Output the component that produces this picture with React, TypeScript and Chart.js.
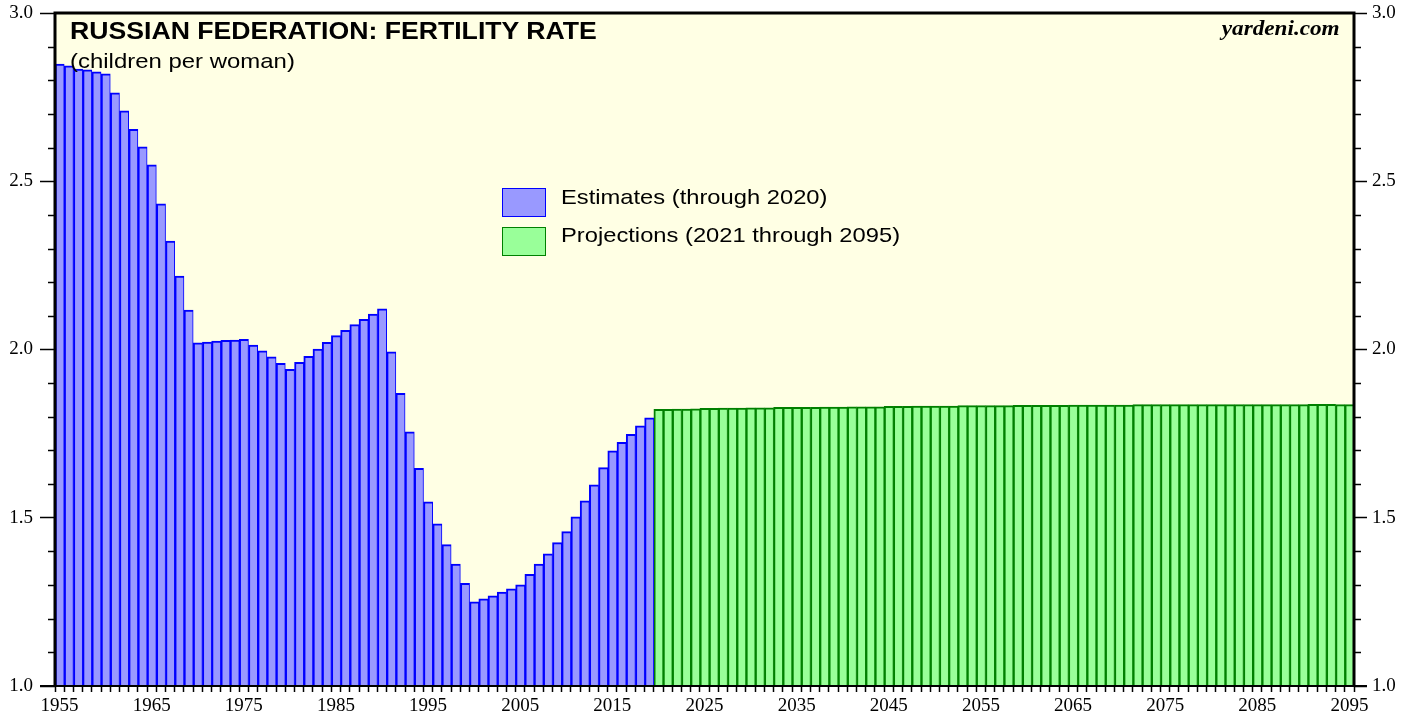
import React, { useEffect, useRef } from "react";
import { Chart, registerables } from "chart.js";

Chart.register(...registerables);

// Categories: one bar per year
const years: number[] = Array.from({ length: 141 }, (_, i) => 1955 + i);

// Estimates, 1955..2019 (children per woman)
const estimates: number[] = [
  2.848, 2.843, 2.833, 2.831, 2.825, 2.819, 2.763, 2.709, 2.654, 2.602,
  2.549, 2.433, 2.322, 2.218, 2.117, 2.020, 2.022, 2.025, 2.027, 2.028,
  2.030, 2.013, 1.996, 1.978, 1.959, 1.941, 1.962, 1.980, 2.001, 2.021,
  2.041, 2.057, 2.074, 2.090, 2.105, 2.121, 1.993, 1.870, 1.755, 1.647,
  1.547, 1.482, 1.420, 1.362, 1.305, 1.250, 1.259, 1.268, 1.279, 1.289,
  1.301, 1.332, 1.362, 1.393, 1.426, 1.459, 1.503, 1.550, 1.598, 1.649,
  1.699, 1.724, 1.748, 1.773, 1.797,
];

// Projections, 2020..2095
const projections: number[] = [
  1.822, 1.822, 1.823, 1.823, 1.824, 1.825, 1.825, 1.826, 1.826, 1.826,
  1.827, 1.827, 1.827, 1.828, 1.828, 1.828, 1.828, 1.828, 1.829, 1.829,
  1.829, 1.830, 1.830, 1.830, 1.830, 1.831, 1.831, 1.831, 1.832, 1.832,
  1.832, 1.832, 1.832, 1.833, 1.833, 1.833, 1.833, 1.833, 1.833, 1.834,
  1.834, 1.834, 1.834, 1.834, 1.834, 1.835, 1.835, 1.835, 1.835, 1.835,
  1.835, 1.835, 1.836, 1.836, 1.836, 1.836, 1.836, 1.836, 1.836, 1.836,
  1.836, 1.836, 1.836, 1.836, 1.836, 1.836, 1.836, 1.836, 1.836, 1.836,
  1.836, 1.837, 1.837, 1.837, 1.836, 1.836,
];

const seriesLabels = ["Estimates (through 2020)", "Projections (2021 through 2095)"];
const titleText = "RUSSIAN FEDERATION: FERTILITY RATE";
const subtitleText = "(children per woman)";
const sourceText = "yardeni.com";
const yMin = 1.0;
const yMax = 3.0;
const yMinorStep = 0.1;
const yMajorStep = 0.5;
const xLabelEvery = 10;

const BLUE_FILL = "#9999ff";
const BLUE_LINE = "#0000ff";
const GREEN_FILL = "#99ff99";
const GREEN_LINE = "#008000";
const PLOT_BG = "#ffffe4";

export default function App() {
  const ref = useRef<HTMLCanvasElement>(null);

  useEffect(() => {
    if (!ref.current) return;
    const nEst = estimates.length;
    const estData = years.map((_, i) => (i < nEst ? estimates[i] : null));
    const projData = years.map((_, i) => (i >= nEst ? projections[i - nEst] : null));
    const isMajor = (v: number) =>
      Math.abs(v / yMajorStep - Math.round(v / yMajorStep)) < 1e-6;

    const framePlugin = {
      id: "frame",
      beforeDraw(chart: any) {
        const { ctx, chartArea: a } = chart;
        ctx.save();
        ctx.fillStyle = PLOT_BG;
        ctx.fillRect(a.left, a.top, a.right - a.left, a.bottom - a.top);
        ctx.restore();
      },
      afterDraw(chart: any) {
        const { ctx, chartArea: a } = chart;
        ctx.save();
        ctx.strokeStyle = "#000";
        // minor ticks
        ctx.lineWidth = 1.5;
        ["y", "y2"].forEach((id) => {
          const s = chart.scales[id];
          s.ticks.forEach((t: any) => {
            if (isMajor(t.value)) return;
            const py = Math.round(s.getPixelForValue(t.value)) + 0.5;
            ctx.beginPath();
            if (id === "y") {
              ctx.moveTo(a.left - 7, py);
              ctx.lineTo(a.left, py);
            } else {
              ctx.moveTo(a.right, py);
              ctx.lineTo(a.right + 7, py);
            }
            ctx.stroke();
          });
        });
        // frame
        ctx.lineWidth = 3;
        ctx.beginPath();
        ctx.moveTo(a.left, a.bottom);
        ctx.lineTo(a.left, a.top);
        ctx.lineTo(a.right, a.top);
        ctx.lineTo(a.right, a.bottom);
        ctx.stroke();
        ctx.lineWidth = 2;
        ctx.beginPath();
        ctx.moveTo(a.left - 15, a.bottom);
        ctx.lineTo(a.right + 13, a.bottom);
        ctx.stroke();
        ctx.restore();
      },
    };

    const tickFont = { family: "'Liberation Serif', 'Times New Roman', serif", size: 19 };

    const yAxis = (position: "left" | "right", width: number, tl: number, pad: number) => ({
      type: "linear" as const,
      position,
      min: yMin,
      max: yMax,
      afterFit: (s: any) => {
        s.width = width;
        s.paddingTop = 0;
        s.paddingBottom = 0;
      },
      border: { display: false },
      grid: {
        drawOnChartArea: false,
        drawTicks: true,
        tickLength: tl,
        tickWidth: 1.5,
        tickColor: (c: any) => (c.tick && isMajor(c.tick.value) ? "#000" : "rgba(0,0,0,0)"),
      },
      ticks: {
        stepSize: yMinorStep,
        autoSkip: false,
        padding: pad,
        color: "#000",
        font: tickFont,
        callback: (v: any) => (isMajor(Number(v)) ? Number(v).toFixed(1) : ""),
      },
    });

    const chart = new Chart(ref.current, {
      type: "bar",
      data: {
        labels: years.map(String),
        datasets: [
          {
            label: seriesLabels[0],
            data: estData,
            backgroundColor: BLUE_FILL,
            borderColor: BLUE_LINE,
            borderWidth: { top: 2, left: 2, right: 1, bottom: 0 },
            borderSkipped: false,
            barPercentage: 1,
            categoryPercentage: 1,
            grouped: false,
          } as any,
          {
            label: seriesLabels[1],
            data: projData,
            backgroundColor: GREEN_FILL,
            borderColor: GREEN_LINE,
            borderWidth: { top: 2, left: 2, right: 1, bottom: 0 },
            borderSkipped: false,
            barPercentage: 1,
            categoryPercentage: 1,
            grouped: false,
          } as any,
        ],
      },
      options: {
        responsive: false,
        animation: false,
        events: [],
        layout: { padding: { top: 13, left: 0, right: 0, bottom: 0 } },
        plugins: { legend: { display: false }, tooltip: { enabled: false }, title: { display: false } },
        scales: {
          x: {
            type: "category",
            offset: true,
            afterFit: (s: any) => {
              s.height = 33;
              s.paddingLeft = 0;
              s.paddingRight = 0;
            },
            border: { display: false },
            grid: {
              offset: true,
              drawOnChartArea: false,
              drawTicks: true,
              tickLength: 6,
              tickWidth: 1.5,
              tickColor: "#000",
            },
            ticks: {
              autoSkip: false,
              maxRotation: 0,
              minRotation: 0,
              padding: 3,
              color: "#000",
              font: tickFont,
              callback: (_v: any, i: number) =>
                (years[i] - years[0]) % xLabelEvery === 0 ? String(years[i]) : "",
            },
          },
          y: yAxis("left", 55, 15, 7) as any,
          y2: yAxis("right", 65, 13, 5) as any,
        },
      },
      plugins: [framePlugin],
    });
    return () => chart.destroy();
  }, []);

  const sans = "'Liberation Sans', Arial, sans-serif";
  const textStyle = (extra: React.CSSProperties): React.CSSProperties => ({
    position: "absolute",
    whiteSpace: "nowrap",
    lineHeight: 1,
    color: "#000",
    ...extra,
  });

  return (
    <div style={{ position: "fixed", left: 0, top: 0, width: 1419, height: 719, background: "#fff" }}>
      <canvas ref={ref} width={1419} height={719} style={{ display: "block" }} />
      <div
        style={textStyle({
          left: 70,
          top: 19.5,
          fontFamily: sans,
          fontWeight: "bold",
          fontSize: 23,
          transform: "scaleX(1.158)",
          transformOrigin: "left top",
        })}
      >
        {titleText}
      </div>
      <div
        style={textStyle({
          left: 70,
          top: 50.2,
          fontFamily: sans,
          fontSize: 21,
          transform: "scaleX(1.14)",
          transformOrigin: "left top",
        })}
      >
        {subtitleText}
      </div>
      <div
        style={textStyle({
          right: 1419 - 1340,
          top: 18.3,
          fontFamily: "'Liberation Serif', 'Times New Roman', serif",
          fontWeight: "bold",
          fontStyle: "italic",
          fontSize: 20,
          transform: "scaleX(1.16)",
          transformOrigin: "right top",
        })}
      >
        {sourceText}
      </div>
      {[0, 1].map((k) => (
        <React.Fragment key={k}>
          <div
            style={{
              position: "absolute",
              left: 502,
              top: 188 + k * 38.5,
              width: 44,
              height: 29,
              boxSizing: "border-box",
              background: k === 0 ? BLUE_FILL : GREEN_FILL,
              border: `1.5px solid ${k === 0 ? BLUE_LINE : GREEN_LINE}`,
            }}
          />
          <div
            style={textStyle({
              left: 561,
              top: 185.7 + k * 38.5,
              fontFamily: sans,
              fontSize: 21,
              transform: "scaleX(1.13)",
              transformOrigin: "left top",
            })}
          >
            {seriesLabels[k]}
          </div>
        </React.Fragment>
      ))}
    </div>
  );
}
